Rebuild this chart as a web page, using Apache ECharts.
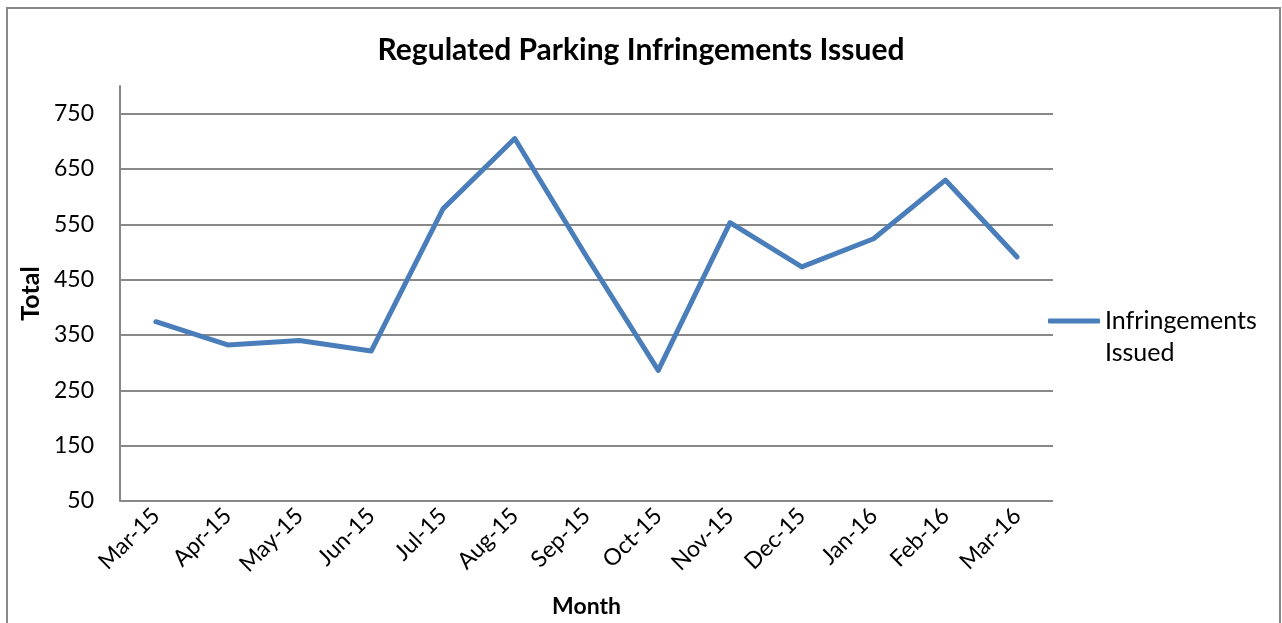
<!DOCTYPE html>
<html>
<head>
<meta charset="utf-8">
<script src="https://cdn.jsdelivr.net/npm/echarts@6/dist/echarts.min.js"></script>
<style>
  html, body { margin: 0; padding: 0; background: #fff; }
  #chart { position: absolute; left: 0; top: 0; width: 1282px; height: 623px; }
  #frame { position: absolute; left: 6px; top: 7px; width: 1271px; height: 700px;
           border: 2px solid #888; pointer-events: none; }
</style>
</head>
<body>
<div id="chart"></div>
<div id="frame"></div>
<script>
// values
const months = ['Mar-15', 'Apr-15', 'May-15', 'Jun-15', 'Jul-15', 'Aug-15', 'Sep-15',
                'Oct-15', 'Nov-15', 'Dec-15', 'Jan-16', 'Feb-16', 'Mar-16']
const infringements = [374, 332, 340, 321, 578, 705, 492, 286, 553, 473, 524, 630, 491]
const seriesName = 'Infringements\nIssued'

const fontFamily = 'Lato, sans-serif'
const gridGrey = '#888888'
const lineBlue = '#4a7ebb'

const chart = echarts.init(document.getElementById('chart'))

chart.setOption({
    animation: false,
    title: {
        text: 'Regulated Parking Infringements Issued',
        left: 'center',
        top: 30,
        textStyle: { fontFamily: fontFamily, fontSize: 30, fontWeight: 'bold', color: '#000' }
    },
    legend: {
        left: 1043,
        top: 268,
        icon: 'roundRect',
        itemWidth: 52,
        itemHeight: 5,
        data: [seriesName],
        // blank first line so the icon sits level with "Infringements"
        formatter: function (name) { return '\n' + name },
        textStyle: {
            fontFamily: fontFamily,
            fontSize: 25,
            color: '#000',
            lineHeight: 32
        }
    },
    grid: {
        left: 120,
        right: 229,
        top: 86,
        bottom: 122,
        containLabel: false
    },
    xAxis: {
        type: 'category',
        data: months,
        boundaryGap: true,
        name: 'Month',
        nameLocation: 'middle',
        nameGap: 94,
        nameTextStyle: { fontFamily: fontFamily, fontSize: 23, fontWeight: 'bold', color: '#000' },
        axisLine: { show: false },
        axisTick: { show: false },
        axisLabel: {
            interval: 0,
            rotate: 45,
            margin: 11,
            fontFamily: fontFamily,
            fontSize: 23,
            color: '#000'
        }
    },
    yAxis: {
        type: 'value',
        min: 50,
        max: 800,
        interval: 100,
        name: 'Total',
        nameLocation: 'middle',
        nameGap: 70,
        nameRotate: 90,
        nameTextStyle: { fontFamily: fontFamily, fontSize: 25, fontWeight: 'bold', color: '#000' },
        axisLine: { show: true, lineStyle: { color: gridGrey, width: 2 } },
        axisTick: { show: false },
        axisLabel: {
            showMaxLabel: false,
            margin: 26,
            fontFamily: fontFamily,
            fontSize: 23,
            color: '#000'
        },
        splitLine: {
            show: true,
            lineStyle: {
                color: [gridGrey, gridGrey, gridGrey, gridGrey, gridGrey, gridGrey, gridGrey, gridGrey, 'rgba(0,0,0,0)'],
                width: 2
            }
        }
    },
    series: [
        {
            name: seriesName,
            type: 'line',
            data: infringements,
            symbol: 'none',
            lineStyle: { width: 5, color: lineBlue, cap: 'round', join: 'round' },
            itemStyle: { color: lineBlue }
        }
    ]
})
</script>
</body>
</html>
